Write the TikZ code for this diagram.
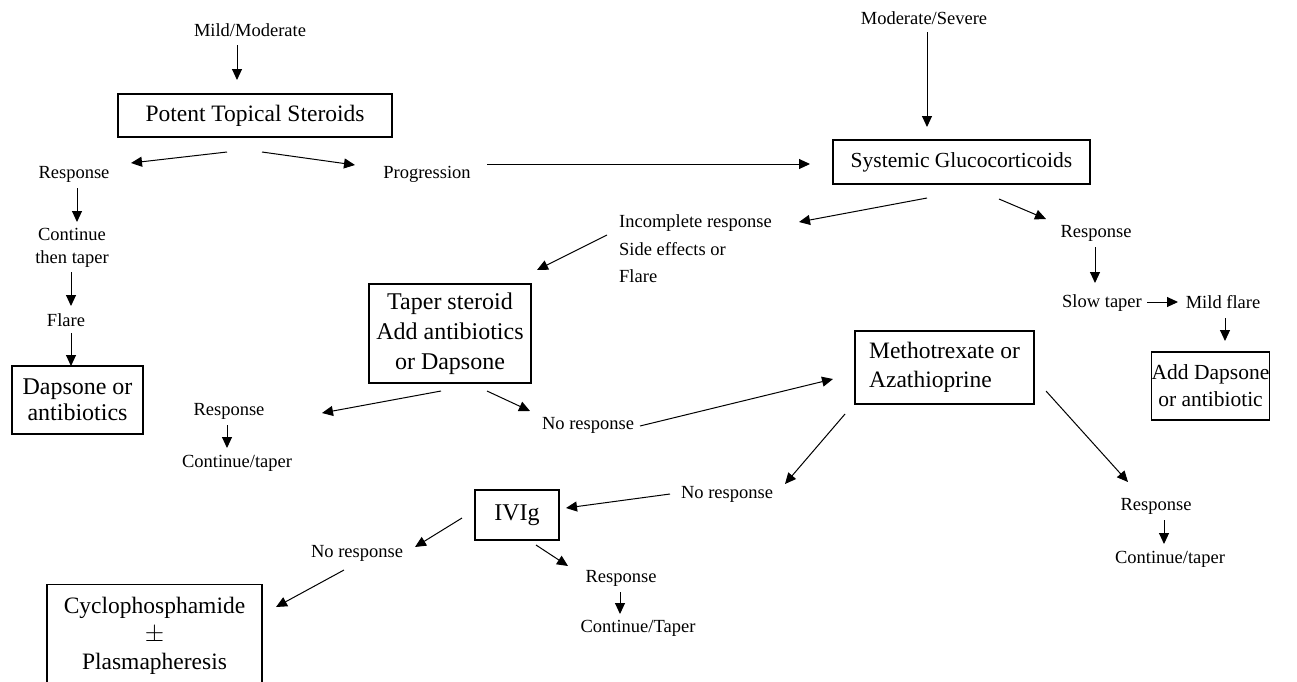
\documentclass[tikz,border=0pt]{standalone}
\usepackage{fontspec}
\setmainfont{Liberation Serif}
\usetikzlibrary{arrows.meta}
\begin{document}
\begin{tikzpicture}[x=1pt,y=-1pt,
  lbl/.style={inner sep=0pt,font=\fontsize{18.5}{23}\selectfont,align=center},
  box/.style={draw,line width=1.4pt,inner sep=0pt,align=center,font=\fontsize{23.5}{27}\selectfont},
  arr/.style={-{Triangle[length=11pt,width=10pt]},line width=1pt}]
\useasboundingbox[fill=white] (0,0) rectangle (1297,681);
% nodes
\node[lbl] (mm) at (250,30) {Mild/Moderate};
\node[box,minimum width=274pt,minimum height=43pt] (pts) at (255,115.5) {Potent Topical Steroids};
\node[lbl] (resp1) at (74,174) {Response};
\node[lbl] (cont1) at (72,248) {Continue\\then taper};
\node[lbl] (flare1) at (66,320) {Flare};
\node[box,minimum width=131pt,minimum height=68pt,font=\fontsize{24}{26}\selectfont] (dap) at (77.5,400) {Dapsone or\\antibiotics};
\node[lbl] (prog) at (427,174) {Progression};
\node[lbl] (ms) at (924,18) {Moderate/Severe};
\node[box,minimum width=257pt,minimum height=44pt,font=\fontsize{21.5}{26}\selectfont] (sg) at (961.5,162) {Systemic Glucocorticoids};
\node[lbl,anchor=west,align=left,font=\fontsize{18.5}{27.5}\selectfont] (incomp) at (619,249) {Incomplete response\\Side effects or\\Flare};
\node[box,minimum width=162pt,minimum height=99pt,font=\fontsize{24}{30}\selectfont] (taper) at (450,333.5) {Taper steroid\\Add antibiotics\\or Dapsone};
\node[lbl] (resp2) at (1096,233) {Response};
\node[lbl] (slow) at (1102,303) {Slow taper};
\node[lbl] (mildflare) at (1223,302) {Mild flare};
\node[box,minimum width=115pt,minimum height=68pt,font=\fontsize{21.5}{27}\selectfont] (adddap) at (1210.5,386) {Add Dapsone\\or antibiotic};
\node[box,minimum width=179pt,minimum height=73pt,align=left,font=\fontsize{23.5}{29}\selectfont] (metho) at (944.5,367.5) {Methotrexate or\\Azathioprine};
\node[lbl] (resp3) at (229,411) {Response};
\node[lbl] (cont3) at (237,463) {Continue/taper};
\node[lbl] (nr1) at (588,425) {No response};
\node[lbl] (nr2) at (727,494) {No response};
\node[box,minimum width=84pt,minimum height=50pt,font=\fontsize{24}{27}\selectfont] (ivig) at (517,515) {IVIg};
\node[lbl] (nr3) at (357,553) {No response};
\node[box,anchor=north,minimum width=215pt,inner ysep=12pt,font=\fontsize{23.5}{28}\selectfont] (cyc) at (154.5,584) {Cyclophosphamide\\$\pm$\\Plasmapheresis};
\node[lbl] (resp4) at (621,578) {Response};
\node[lbl] (cont4) at (638,628) {Continue/Taper};
\node[lbl] (resp5) at (1156,506) {Response};
\node[lbl] (cont5) at (1170,559) {Continue/taper};
% connectors
\draw[arr] ([shift={(-13,15)}]mm.center) -- ([shift={(-18,-35.5)}]pts.center);
\draw[arr] ([shift={(-28,36.5)}]pts.center) -- ([shift={(57,-11)}]resp1.center);
\draw[arr] ([shift={(7,36.5)}]pts.center) -- ([shift={(-72,-9)}]prog.center);
\draw[arr] ([shift={(3,14)}]resp1.center) -- ([shift={(5,-26)}]cont1.center);
\draw[arr] ([shift={(-1,24)}]cont1.center) -- ([shift={(5,-14)}]flare1.center);
\draw[arr] ([shift={(5,13)}]flare1.center) -- ([shift={(-6.5,-34)}]dap.center);
\draw[arr] ([shift={(60,-10)}]prog.center) -- ([shift={(-151.5,2)}]sg.center);
\draw[arr] ([shift={(3,14)}]ms.center) -- ([shift={(-34.5,-35)}]sg.center);
\draw[arr] ([shift={(-34.5,36)}]sg.center) -- ([shift={(180,-27)}]incomp.west);
\draw[arr] ([shift={(-12,-14)}]incomp.west) -- ([shift={(87,-63.5)}]taper.center);
\draw[arr] ([shift={(37.5,37)}]sg.center) -- ([shift={(-50,-14)}]resp2.center);
\draw[arr] ([shift={(-1,14)}]resp2.center) -- ([shift={(-7,-20)}]slow.center);
\draw[arr] ([shift={(45,-1)}]slow.center) -- ([shift={(-45,0)}]mildflare.center);
\draw[arr] ([shift={(2,16)}]mildflare.center) -- ([shift={(14.5,-45)}]adddap.center);
\draw[arr] ([shift={(-9,57.5)}]taper.center) -- ([shift={(93,2)}]resp3.center);
\draw[arr] ([shift={(-2,14)}]resp3.center) -- ([shift={(-10,-15)}]cont3.center);
\draw[arr] ([shift={(37,57.5)}]taper.center) -- ([shift={(-58,-14)}]nr1.center);
\draw[arr] ([shift={(52,1)}]nr1.center) -- ([shift={(-111.5,11.5)}]metho.center);
\draw[arr] ([shift={(-99.5,46.5)}]metho.center) -- ([shift={(58,-10)}]nr2.center);
\draw[arr] ([shift={(-57,0)}]nr2.center) -- ([shift={(49,-7)}]ivig.center);
\draw[arr] ([shift={(-55,3)}]ivig.center) -- ([shift={(58,-6)}]nr3.center);
\draw[arr] ([shift={(-13,17)}]nr3.center) -- ([shift={(121.5,23)}]cyc.north);
\draw[arr] ([shift={(19,30)}]ivig.center) -- ([shift={(-53,-12)}]resp4.center);
\draw[arr] ([shift={(-1,14)}]resp4.center) -- ([shift={(-18,-14)}]cont4.center);
\draw[arr] ([shift={(101.5,23.5)}]metho.center) -- ([shift={(-28,-24)}]resp5.center);
\draw[arr] ([shift={(8,14)}]resp5.center) -- ([shift={(-6,-15)}]cont5.center);
\end{tikzpicture}
\end{document}
